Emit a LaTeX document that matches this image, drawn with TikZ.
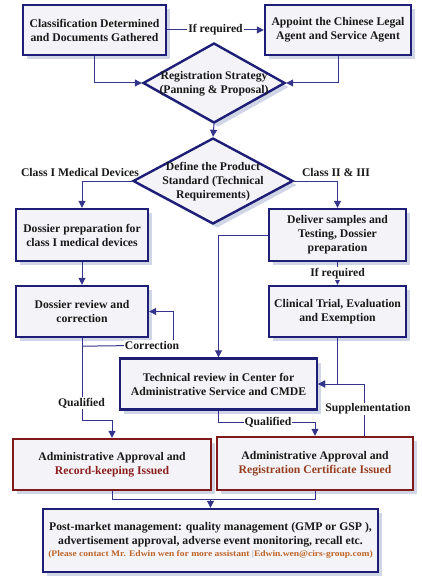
\documentclass[tikz,border=0pt]{standalone}
\usepackage{fontspec}
\usepackage{graphicx}
\setmainfont{Liberation Serif}
\usetikzlibrary{shapes.geometric,arrows.meta,shadows,calc}
\definecolor{boxblue}{RGB}{30,30,118}
\definecolor{linec}{RGB}{52,52,140}
\definecolor{boxred}{RGB}{128,26,26}
\definecolor{boxfill}{RGB}{244,244,248}
\definecolor{shadowc}{RGB}{208,214,230}
\definecolor{redtxt}{RGB}{140,30,30}
\definecolor{browntxt}{RGB}{150,62,32}
\definecolor{orangetxt}{RGB}{190,100,40}
\definecolor{txt}{RGB}{25,25,25}
\tikzset{
  base/.style={font=\fontsize{11.7}{14}\selectfont\bfseries, text=txt},
  sbox/.style={base, draw=boxblue, line width=2.4pt, fill=boxfill, align=center,
    inner sep=0pt, drop shadow={shadow xshift=4pt, shadow yshift=-4pt, fill=shadowc, opacity=1}},
  rbox/.style={sbox, draw=boxred},
  dia/.style={diamond, draw=boxblue, line width=2.4pt, fill=boxfill, inner sep=0pt,
    drop shadow={shadow xshift=4pt, shadow yshift=-4pt, fill=shadowc, opacity=1}},
  dtext/.style={base, align=center, inner sep=0pt},
  conn/.style={draw=linec, line width=1pt},
  arr/.style={conn, -{Triangle[length=7pt,width=7pt]}},
  lbl/.style={base, fill=white, inner sep=1pt},
}
\begin{document}
\begin{tikzpicture}[x=1pt,y=-1pt]
\useasboundingbox (0,0) rectangle (421,580);
% boxes
\node[sbox, minimum width=143pt, minimum height=50pt] (b1) at (94.5,30) {Classification Determined\\and Documents Gathered};
\node[sbox, minimum width=146pt, minimum height=50pt] (b2) at (338,30) {Appoint the Chinese Legal\\Agent and Service Agent};
\node[dia, minimum width=142pt, minimum height=80pt] (d1) at (214,83) {};
\node[dtext] (d1t) at (214,84) {Registration Strategy\\(Panning \& Proposal)};
\node[dia, minimum width=160pt, minimum height=86pt] (d2) at (213,181) {};
\node[dtext] (d2t) at (213,182) {Define the Product\\Standard (Technical\\Requirements)};
\node[sbox, minimum width=132pt, minimum height=52pt] (b3) at (82,235) {Dossier preparation for\\class I medical devices};
\node[sbox, minimum width=137pt, minimum height=52pt] (b4) at (337.5,235) {Deliver samples and\\Testing, Dossier\\preparation};
\node[sbox, minimum width=132pt, minimum height=51pt] (b5) at (82,311.5) {Dossier review and\\correction};
\node[sbox, minimum width=137pt, minimum height=51pt] (b6) at (337.5,311.5) {Clinical Trial, Evaluation\\and Exemption};
\node[sbox, minimum width=197pt, minimum height=51pt] (b7) at (218.5,384) {Technical review in Center for\\Administrative Service and CMDE};
\node[rbox, minimum width=198pt, minimum height=51pt] (b9) at (112,464.5) {Administrative Approval and\\\textcolor{redtxt}{Record-keeping Issued}};
\node[rbox, minimum width=196pt, minimum height=53pt] (b10) at (315,463.5) {Administrative Approval and\\\textcolor{browntxt}{Registration Certificate Issued}};
\node[sbox, minimum width=335pt, minimum height=63pt] (b11) at (210.5,540.5) {Post-market management: quality management (GMP or GSP ),\\advertisement approval, adverse event monitoring, recall etc.\\[-2pt]{\fontsize{8.5}{10}\selectfont\textcolor{orangetxt}{\scalebox{1.12}[1]{(Please contact Mr. Edwin wen for more assistant {\color{gray!60}|}Edwin.wen@cirs-group.com)}}}};
% connectors
\draw[arr] (b1.east) -- node[lbl] (l1) {If required} (b2.west);
\draw[arr] (b1.south) |- (d1.west);
\draw[arr] (b2.south) |- (d1.east);
\draw[arr] (d1.south) -- (d2.north);
\draw[arr] (d2.west) -| (b3.north);
\draw[arr] (d2.east) -| (b4.north);
\node[base] (l2) at (80,172) {Class I Medical Devices};
\node[base] (l3) at (336,172) {Class II \& III};
\draw[arr] (b3.south) -- (b5.north);
\draw[arr] (b4.south) -- node[lbl] (l4) {If required} (b6.north);
\draw[arr] (b4.west) -| (b7.north);
\draw[arr] (b6.south) |- (b7.east);
\coordinate (s1) at ($(b10.north west)!0.75!(b10.north east)$);
\draw[arr] (s1) |- (b7.east);
\node[lbl] (l5) at (368,409) {Supplementation};
% correction loop
\coordinate (c1) at ($(b5.south)+(0,8)$);
\coordinate (c2) at (173,345);
\draw[conn] (c1) -- (c2);
\draw[arr] (c2) |- (b5.east);
\node[lbl, inner sep=0.5pt] (l6) at (152,345) {Correction};
\coordinate (q1) at (82,420);
\draw[arr] (b5.south) -- (q1) -| (b9.north);
\node[lbl] (l7) at (81.5,403) {Qualified};
\coordinate (q2) at (218.5,422);
\draw[arr] (b7.south) -- (q2) -| (b10.north);
\node[lbl] (l8) at (268,422) {Qualified};
\coordinate (j) at (210.5,499);
\draw[conn] (b9.south) |- (j);
\draw[conn] (b10.south) |- (j);
\draw[arr] (j) -- (b11.north);
\end{tikzpicture}
\end{document}
